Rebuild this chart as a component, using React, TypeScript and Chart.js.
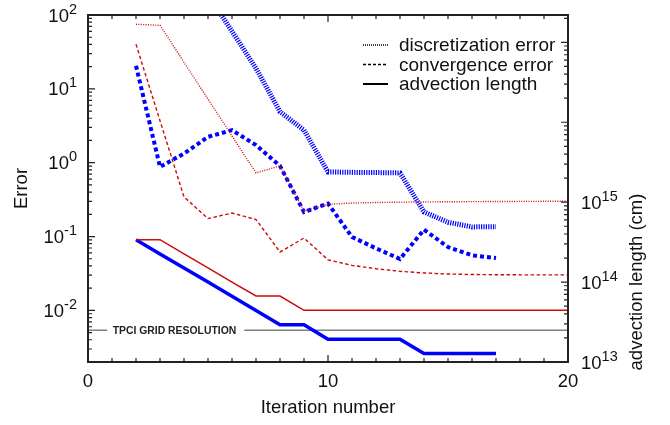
import React, { useEffect, useRef } from "react";
import { Chart, registerables } from "chart.js";
Chart.register(...registerables);

// ---- data ----
const ITER_DISC_BLUE = [5, 6, 7, 8, 9, 10, 11, 12, 13, 14, 15, 16, 17];
const DISC_BLUE = [190, 60, 19, 4.9, 2.76, 0.75, 0.74, 0.735, 0.727, 0.215, 0.156, 0.135, 0.136];

const ITER_DISC_RED = [2, 3, 4, 5, 6, 7, 8, 9, 10, 11, 12, 13, 14, 15, 16, 17, 18, 19, 20];
const DISC_RED = [74.8, 72.5, 22.9, 7.26, 2.3, 0.727, 0.905, 0.222, 0.273, 0.284, 0.289, 0.292, 0.294, 0.296, 0.297, 0.298, 0.299, 0.3, 0.3];

const ITER_CONV_BLUE = [2, 3, 4, 5, 6, 7, 8, 9, 10, 11, 12, 13, 14, 15, 16, 17];
const CONV_BLUE = [20.5, 0.877, 1.33, 2.24, 2.76, 1.73, 0.905, 0.215, 0.28, 0.0986, 0.0693, 0.0496, 0.124, 0.0721, 0.0557, 0.0512];

const ITER_CONV_RED = [2, 3, 4, 5, 6, 7, 8, 9, 10, 11, 12, 13, 14, 15, 16, 17, 18, 19, 20];
const CONV_RED = [40.1, 3.7, 0.344, 0.175, 0.208, 0.17, 0.0618, 0.0955, 0.0484, 0.0407, 0.0367, 0.0338, 0.0321, 0.0311, 0.0306, 0.0304, 0.0303, 0.0303, 0.0303];

const ITER_ADV_RED = [2, 3, 4, 5, 6, 7, 8, 9, 10, 11, 12, 13, 14, 15, 16, 17, 18, 19, 20];
const ADV_RED = [3.39e14, 3.39e14, 2.26e14, 1.51e14, 1.0e14, 6.7e13, 6.7e13, 4.43e13, 4.43e13, 4.43e13, 4.43e13, 4.43e13, 4.43e13, 4.43e13, 4.43e13, 4.43e13, 4.43e13, 4.43e13, 4.43e13];

const ITER_ADV_BLUE = [2, 3, 4, 5, 6, 7, 8, 9, 10, 11, 12, 13, 14, 15, 16, 17];
const ADV_BLUE = [3.39e14, 2.25e14, 1.5e14, 1.0e14, 6.64e13, 4.42e13, 2.93e13, 2.93e13, 1.92e13, 1.92e13, 1.92e13, 1.92e13, 1.28e13, 1.28e13, 1.28e13, 1.28e13];

const TPCI_RESOLUTION = 2.49e13; // cm
const TPCI_LABEL = "TPCI GRID RESOLUTION";

const X_TICK_LABELS = ["0", "10", "20"];
const X_TICK_VALUES = [0, 10, 20];
const Y_DECADES = [-2, -1, 0, 1, 2];
const Y2_DECADES = [13, 14, 15];

const LEGEND_LABELS = ["discretization error", "convergence error", "advection length"];

const X_TITLE = "Iteration number";
const Y_TITLE = "Error";
const Y2_TITLE = "advection length (cm)";

const FONT = '"Liberation Sans", Arial, Helvetica, sans-serif';
const RED = "rgb(205,10,10)";
const BLUE = "rgb(0,0,255)";

const pts = (xs: number[], ys: number[]) => xs.map((x, i) => ({ x, y: ys[i] }));

function drawPow(ctx: CanvasRenderingContext2D, exp: string, x: number, y: number, align: "left" | "right") {
  ctx.font = `18.5px ${FONT}`;
  const bw = ctx.measureText("10").width;
  ctx.font = `14.5px ${FONT}`;
  const ew = ctx.measureText(exp).width;
  const start = align === "left" ? x : x - bw - ew;
  ctx.textAlign = "left";
  ctx.textBaseline = "middle";
  ctx.font = `18.5px ${FONT}`;
  ctx.fillText("10", start, y + 1.5);
  ctx.font = `14.5px ${FONT}`;
  ctx.fillText(exp, start + bw, y - 5.5);
}

const decorPlugin = {
  id: "decor",
  beforeDatasetsDraw(chart: any) {
    const { ctx, chartArea: a, scales } = chart;
    const y = scales.y2.getPixelForValue(TPCI_RESOLUTION);
    ctx.save();
    ctx.font = `bold 10.4px ${FONT}`;
    const tw = ctx.measureText(TPCI_LABEL).width;
    const tx = a.left + 24.7;
    ctx.strokeStyle = "#808080";
    ctx.lineWidth = 1.5;
    ctx.beginPath();
    ctx.moveTo(a.left, y);
    ctx.lineTo(tx - 5.5, y);
    ctx.moveTo(tx + tw + 8, y);
    ctx.lineTo(a.right, y);
    ctx.stroke();
    ctx.fillStyle = "#222";
    ctx.textAlign = "left";
    ctx.textBaseline = "middle";
    ctx.fillText(TPCI_LABEL, tx, y + 0.5);
    ctx.restore();
  },
  afterDraw(chart: any) {
    const { ctx, chartArea: a, scales } = chart;
    const sx = scales.x, sy = scales.y, sy2 = scales.y2;
    ctx.save();
    ctx.strokeStyle = "#222";
    ctx.lineWidth = 1.2;
    ctx.beginPath();
    // x ticks bottom and top
    for (let i = 0; i <= 20; i++) {
      const px = sx.getPixelForValue(i);
      const len = i % 10 === 0 ? 7 : 4;
      ctx.moveTo(px, a.bottom);
      ctx.lineTo(px, a.bottom - len);
      ctx.moveTo(px, a.top);
      ctx.lineTo(px, a.top + len);
    }
    // left y ticks
    for (let d = -3; d <= 2; d++) {
      for (let m = 1; m <= 9; m++) {
        const v = m * Math.pow(10, d);
        if (v < sy.min * 0.999 || v > sy.max * 1.001) continue;
        const py = sy.getPixelForValue(v);
        const len = m === 1 ? 7 : 4;
        ctx.moveTo(a.left, py);
        ctx.lineTo(a.left + len, py);
      }
    }
    // right y2 ticks
    for (let d = 13; d <= 17; d++) {
      for (let m = 1; m <= 9; m++) {
        const v = m * Math.pow(10, d);
        if (v < sy2.min * 0.999 || v > sy2.max * 1.001) continue;
        const py = sy2.getPixelForValue(v);
        const len = m === 1 ? 7 : 4;
        ctx.moveTo(a.right, py);
        ctx.lineTo(a.right - len, py);
      }
    }
    ctx.stroke();
    // border
    ctx.lineWidth = 2;
    ctx.strokeStyle = "#222";
    ctx.strokeRect(a.left, a.top, a.right - a.left, a.bottom - a.top);

    ctx.fillStyle = "#111";
    // y labels
    Y_DECADES.forEach((d) => {
      drawPow(ctx, String(d), a.left - 11, sy.getPixelForValue(Math.pow(10, d)), "right");
    });
    Y2_DECADES.forEach((d) => {
      drawPow(ctx, String(d), a.right + 13, sy2.getPixelForValue(Math.pow(10, d)), "left");
    });
    // x labels
    ctx.font = `18.5px ${FONT}`;
    ctx.textAlign = "center";
    ctx.textBaseline = "middle";
    X_TICK_VALUES.forEach((v, i) => {
      ctx.fillText(X_TICK_LABELS[i], sx.getPixelForValue(v), a.bottom + 20);
    });
    // titles
    ctx.fillText(X_TITLE, (a.left + a.right) / 2, a.bottom + 46);
    ctx.save();
    ctx.translate(22, (a.top + a.bottom) / 2);
    ctx.rotate(-Math.PI / 2);
    ctx.fillText(Y_TITLE, 0, 0);
    ctx.restore();
    ctx.save();
    ctx.translate(637, 282);
    ctx.rotate(-Math.PI / 2);
    ctx.fillText(Y2_TITLE, 0, 0);
    ctx.restore();

    // legend
    const rows = [45, 64.5, 84];
    const dashes = [[1, 1], [3, 2], []];
    const widths = [1.5, 1.5, 2];
    LEGEND_LABELS.forEach((lab, i) => {
      ctx.save();
      ctx.strokeStyle = "#000";
      ctx.lineWidth = widths[i];
      ctx.setLineDash(dashes[i]);
      ctx.beginPath();
      ctx.moveTo(363, rows[i]);
      ctx.lineTo(388, rows[i]);
      ctx.stroke();
      ctx.restore();
      ctx.font = `19px ${FONT}`;
      ctx.textAlign = "left";
      ctx.textBaseline = "middle";
      ctx.fillStyle = "#111";
      ctx.fillText(lab, 399, rows[i] + 1);
    });
    ctx.restore();
  },
};

export default function App() {
  const ref = useRef<HTMLCanvasElement | null>(null);
  useEffect(() => {
    if (!ref.current) return;
    const chart = new Chart(ref.current, {
      type: "line",
      data: {
        datasets: [
          { label: "discretization error (red)", data: pts(ITER_DISC_RED, DISC_RED), yAxisID: "y", borderColor: RED, borderWidth: 1.4, borderDash: [1, 1.4], pointRadius: 0, tension: 0 },
          { label: "convergence error (red)", data: pts(ITER_CONV_RED, CONV_RED), yAxisID: "y", borderColor: RED, borderWidth: 1.4, borderDash: [3.5, 2.5], pointRadius: 0, tension: 0 },
          { label: "advection length (red)", data: pts(ITER_ADV_RED, ADV_RED), yAxisID: "y2", borderColor: RED, borderWidth: 1.5, pointRadius: 0, tension: 0 },
          { label: "discretization error (blue)", data: pts(ITER_DISC_BLUE, DISC_BLUE), yAxisID: "y", borderColor: BLUE, borderWidth: 5, borderDash: [1.2, 1.2], pointRadius: 0, tension: 0 },
          { label: "convergence error (blue)", data: pts(ITER_CONV_BLUE, CONV_BLUE), yAxisID: "y", borderColor: BLUE, borderWidth: 4, borderDash: [4, 3], pointRadius: 0, tension: 0 },
          { label: "advection length (blue)", data: pts(ITER_ADV_BLUE, ADV_BLUE), yAxisID: "y2", borderColor: BLUE, borderWidth: 3.5, pointRadius: 0, tension: 0 },
        ],
      },
      options: {
        animation: false,
        responsive: false,
        devicePixelRatio: 1,
        layout: { padding: { left: 88, top: 15, right: 102, bottom: 63 } },
        plugins: { legend: { display: false }, tooltip: { enabled: false } },
        scales: {
          x: { type: "linear", min: 0, max: 20, display: false },
          y: { type: "logarithmic", min: 0.002, max: 100, display: false },
          y2: { type: "logarithmic", min: 1e13, max: 2.2e17, display: false },
        },
      },
      plugins: [decorPlugin],
    });
    return () => chart.destroy();
  }, []);
  return (
    <div style={{ position: "fixed", left: 0, top: 0, width: 670, height: 425, background: "#fff" }}>
      <canvas ref={ref} width={670} height={425} style={{ display: "block" }} />
    </div>
  );
}
